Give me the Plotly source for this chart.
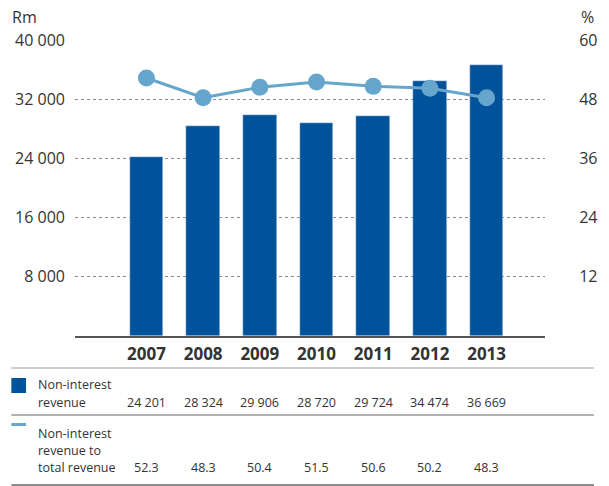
import plotly.graph_objects as go

years = ["2007", "2008", "2009", "2010", "2011", "2012", "2013"]
non_interest_revenue = [24201, 28324, 29906, 28720, 29724, 34474, 36669]
share_of_total = [52.3, 48.3, 50.4, 51.5, 50.6, 50.2, 48.3]
left_ticks = [8000, 16000, 24000, 32000, 40000]
right_ticks = [12, 24, 36, 48, 60]

BAR = "#00529b"
LINE = "#66a6cc"
TXT = "#333333"
FONT = "Open Sans"

W, H = 609, 486
ML, MR, MT, MB = 75, 54, 40, 150
PW, PH = W - ML - MR, H - MT - MB


def px_x(p):
    return (p - ML) / PW


def px_y(p):
    return (H - MB - p) / PH


xs = list(range(len(years)))

fig = go.Figure()
fig.add_trace(go.Bar(x=xs, y=non_interest_revenue, marker_color=BAR, width=0.59,
                     name="Non-interest revenue", yaxis="y"))
fig.add_trace(go.Scatter(x=xs, y=share_of_total, mode="lines+markers",
                         line=dict(color=LINE, width=3),
                         marker=dict(color=LINE, size=17),
                         name="Non-interest revenue to total revenue", yaxis="y2"))

fig.update_layout(
    width=W, height=H,
    margin=dict(l=ML, r=MR, t=MT, b=MB),
    paper_bgcolor="white", plot_bgcolor="white",
    showlegend=False,
    separators=". ",
    font=dict(family=FONT, color=TXT, size=16),
    bargap=0,
    xaxis=dict(range=[-1.26, 7.03], tickvals=xs, ticktext=[f"<b>{y}</b>" for y in years],
               tickfont=dict(size=17, color=TXT), showgrid=False, zeroline=False,
               showline=True, linecolor="#555555", linewidth=2, ticks="",
               ticklabelstandoff=2),
    yaxis=dict(range=[0, 40000], tickvals=left_ticks, tickformat=",d",
               showgrid=True, gridcolor="#8a8a8a", griddash="dot", gridwidth=1,
               zeroline=False, ticks="", tickfont=dict(size=16, color=TXT),
               ticklabelstandoff=9),
    yaxis2=dict(range=[0, 60], tickvals=right_ticks, overlaying="y", side="right",
                showgrid=False, zeroline=False, ticks="outside", ticklen=30,
                tickcolor="rgba(0,0,0,0)", tickfont=dict(size=16, color=TXT)),
)

ann = []
ann.append(dict(text="Rm", x=px_x(9), y=px_y(17), xref="paper", yref="paper",
                xanchor="left", yanchor="middle", showarrow=False, font=dict(size=16)))
ann.append(dict(text="%", x=px_x(590), y=px_y(17), xref="paper", yref="paper",
                xanchor="left", yanchor="middle", showarrow=False, font=dict(size=16)))

small = dict(size=12.5, color=TXT)
row1 = [("Non-interest", 384), ("revenue", 402)]
row2 = [("Non-interest", 433), ("revenue to", 450), ("total revenue", 467)]
for t, yy in row1 + row2:
    ann.append(dict(text=t, x=px_x(35), y=px_y(yy), xref="paper", yref="paper",
                    xanchor="left", yanchor="middle", showarrow=False, font=small))

for i, v in enumerate(non_interest_revenue):
    ann.append(dict(text=f"{v:,}".replace(",", " "), x=xs[i], y=px_y(402), xref="x",
                    yref="paper", xanchor="center", yanchor="middle", showarrow=False,
                    font=small))
for i, v in enumerate(share_of_total):
    ann.append(dict(text=f"{v:.1f}", x=xs[i], y=px_y(467), xref="x",
                    yref="paper", xanchor="center", yanchor="middle", showarrow=False,
                    font=small))
fig.update_layout(annotations=ann)

shapes = []
for yy, col in [(368, "#bbbbbb"), (415, "#999999"), (485, "#666666")]:
    shapes.append(dict(type="line", xref="paper", yref="paper",
                       x0=px_x(10), x1=px_x(605), y0=px_y(yy), y1=px_y(yy),
                       line=dict(color=col, width=1.5)))
shapes.append(dict(type="rect", xref="paper", yref="paper",
                   x0=px_x(10), x1=px_x(25), y0=px_y(378), y1=px_y(393),
                   fillcolor=BAR, line=dict(width=0)))
shapes.append(dict(type="rect", xref="paper", yref="paper",
                   x0=px_x(10), x1=px_x(25), y0=px_y(423), y1=px_y(426),
                   fillcolor=LINE, line=dict(width=0)))
fig.update_layout(shapes=shapes)

fig.write_html("out.html")
